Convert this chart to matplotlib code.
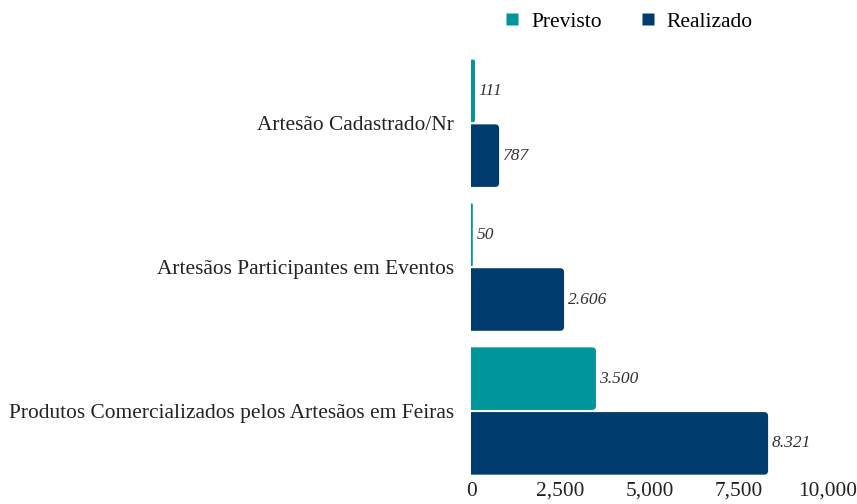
import matplotlib.pyplot as plt
from matplotlib.patches import FancyBboxPatch
from matplotlib.lines import Line2D
import numpy as np

plt.rcParams['font.family'] = ['Liberation Serif', 'DejaVu Serif']

categories = ["Artesão Cadastrado/Nr", "Artesãos Participantes em Eventos",
              "Produtos Comercializados pelos Artesãos em Feiras"]
previsto = [111, 50, 3500]
realizado = [787, 2606, 8321]
series_names = ["Previsto", "Realizado"]
colors = ["#00959A", "#003D6E"]

fig = plt.figure(figsize=(8.57, 5.04), dpi=100)
ax = fig.add_axes([0.5496, 0.0575, 0.4166, 0.8335])

xmax = 10000
ax.set_xlim(0, xmax)
ax.set_ylim(2.445, -0.475)

# px -> data scale for rounded corners
px_x = xmax / (0.4166 * 857)
px_y = 2.92 / (0.8335 * 504)
aspect = px_y / px_x
r = 4 * px_x

y = np.arange(len(categories))
bar_h = 0.435
offsets = [-0.225, 0.225]

for vals, off, col in zip([previsto, realizado], offsets, colors):
    for yi, v in zip(y, vals):
        rr = min(r, v / 2)
        p = FancyBboxPatch((-r, yi + off - bar_h / 2), v + r, bar_h,
                           boxstyle=f"round,pad=0,rounding_size={rr}",
                           mutation_aspect=aspect, facecolor=col,
                           edgecolor="none", clip_on=True)
        ax.add_patch(p)
        lbl = f"{v:,}".replace(",", ".")
        ax.text(v + 3.5 * px_x, yi + off, lbl, va="center", ha="left",
                fontsize=12.5, fontstyle="italic", color="#333333")

ax.set_yticks(y)
ax.set_yticklabels(categories, fontsize=15.4, color="#222222")
ax.set_xticks([0, 2500, 5000, 7500, 10000])
ax.set_xticklabels(["0", "2,500", "5,000", "7,500", "10,000"], fontsize=15.4, color="#222222")
ax.tick_params(length=0, pad=5)
ax.tick_params(axis="y", pad=12)
for s in ax.spines.values():
    s.set_visible(False)

handles = [Line2D([], [], marker="s", linestyle="none", markersize=9,
                  markerfacecolor=c, markeredgecolor="none") for c in colors]
fig.legend(handles, series_names, loc="upper center", bbox_to_anchor=(0.732, 1.015),
           ncol=2, frameon=False, fontsize=15.5, handlelength=1, handletextpad=0.4,
           columnspacing=1.6)

fig.savefig("out.png", dpi=100)
